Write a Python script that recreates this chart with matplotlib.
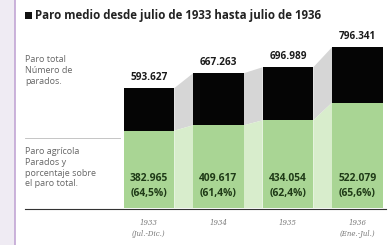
import matplotlib.pyplot as plt
from matplotlib.patches import Rectangle, Polygon
from matplotlib.lines import Line2D

years = ['1933\n(Jul.-Dic.)', '1934', '1935', '1936\n(Ene.-Jul.)']
paro_total = [593627, 667263, 696989, 796341]
paro_agricola = [382965, 409617, 434054, 522079]
porcentaje = ['64,5%', '61,4%', '62,4%', '65,6%']

W, H = 390, 245


def fx(x):
    return x / W


def fy(y):
    return 1 - y / H


def miles(v):
    return f'{v:,}'.replace(',', '.')


fig = plt.figure(figsize=(W / 100, H / 100), dpi=100)
fig.patch.set_facecolor('white')

# franja izquierda y borde
fig.patches.append(Rectangle((0, 0), fx(15), 1, transform=fig.transFigure,
                             facecolor='#efebf3', edgecolor='none'))
fig.lines.append(Line2D([fx(15.5), fx(15.5)], [0, 1], transform=fig.transFigure,
                        color='#c2a6d4', lw=1.2))

ax = fig.add_axes([fx(100), fy(208), fx(390) - fx(100), 171.7 / H])
ax.set_ylim(0, 850000)
ax.set_xlim(-0.705, 3.468)
ax.axis('off')

width = 0.73
x = range(len(years))
black_part = [t - a for t, a in zip(paro_total, paro_agricola)]

# uniones entre barras
for i in range(len(years) - 1):
    r = i + width / 2
    l = i + 1 - width / 2
    ax.add_patch(Polygon([(r, paro_total[i]), (l, paro_total[i + 1]),
                          (l, paro_agricola[i + 1]), (r, paro_agricola[i])],
                         closed=True, facecolor='#d6d6d6', edgecolor='none'))
    ax.add_patch(Polygon([(r, paro_agricola[i]), (l, paro_agricola[i + 1]),
                          (l, 0), (r, 0)],
                         closed=True, facecolor='#d8edcc', edgecolor='none'))

ax.bar(x, paro_agricola, width, color='#a9d594', zorder=3)
ax.bar(x, black_part, width, bottom=paro_agricola, color='#050505', zorder=3)

for i in x:
    ax.annotate(miles(paro_total[i]), (i, paro_total[i]),
                xytext=(0, 7.5), textcoords='offset points', ha='center', va='center',
                fontsize=7.2, fontweight='bold', family='Open Sans', color='#1a1a1a')
    ax.annotate(miles(paro_agricola[i]) + f'\n({porcentaje[i]})', (i, 0),
                xytext=(0, 6.5), textcoords='offset points', ha='center', va='bottom',
                fontsize=7.4, fontweight='bold', family='Open Sans', color='#1f3a17',
                linespacing=1.45, zorder=4)

# titulo
fig.patches.append(Rectangle((fx(25), fy(19)), fx(7), 7 / H, transform=fig.transFigure,
                             facecolor='#111111', edgecolor='none'))
fig.text(fx(35), fy(15), 'Paro medio desde julio de 1933 hasta julio de 1936',
         ha='left', va='center', fontsize=8.3, fontweight='bold', family='Open Sans',
         color='#222222')

# etiquetas izquierda
fig.text(fx(25), fy(55), 'Paro total\nNúmero de\nparados.', ha='left', va='top',
         fontsize=6.5, family='Open Sans', color='#666666', linespacing=1.25)
fig.text(fx(25), fy(147), 'Paro agrícola\nParados y\nporcentaje sobre\nel paro total.',
         ha='left', va='top', fontsize=6.5, family='Open Sans', color='#666666',
         linespacing=1.25)

fig.lines.append(Line2D([fx(25), fx(120)], [fy(138), fy(138)], transform=fig.transFigure,
                        color='#bbbbbb', lw=0.6))
fig.lines.append(Line2D([fx(25), fx(386)], [fy(208.5), fy(208.5)], transform=fig.transFigure,
                        color='#333333', lw=0.8))

# etiquetas de años
for i in x:
    ax.annotate(years[i], (i, 0), xytext=(0, -8), textcoords='offset points',
                ha='center', va='top', fontsize=5, style='italic',
                family='DejaVu Serif', color='#777777', linespacing=1.5,
                annotation_clip=False)

fig.savefig('out.png', dpi=100)
